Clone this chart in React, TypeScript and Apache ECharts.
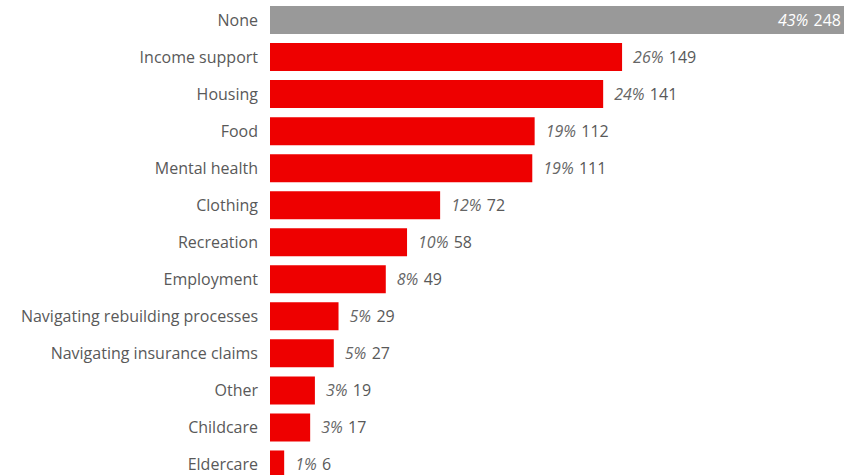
import React, { useEffect, useRef } from "react";
import * as echarts from "echarts";

const categories = [
  "None",
  "Income support",
  "Housing",
  "Food",
  "Mental health",
  "Clothing",
  "Recreation",
  "Employment",
  "Navigating rebuilding processes",
  "Navigating insurance claims",
  "Other",
  "Childcare",
  "Eldercare",
];
const counts = [248, 149, 141, 112, 111, 72, 58, 49, 29, 27, 19, 17, 6];
const percents = [43, 26, 24, 19, 19, 12, 10, 8, 5, 5, 3, 3, 1];

const RED = "#EE0000";
const GREY = "#999999";
const TEXT = "#595959";
const PCT = "#666666";
const FONT = "'Open Sans', 'Noto Sans', sans-serif";
const FS = 16;

export default function App() {
  const ref = useRef<HTMLDivElement>(null);
  useEffect(() => {
    if (!ref.current) return;
    const chart = echarts.init(ref.current, undefined, { renderer: "svg" });
    const data = counts.map((v, i) => {
      const isNone = i === 0;
      return {
        value: v,
        itemStyle: { color: isNone ? GREY : RED },
        label: isNone
          ? {
              position: "insideRight",
              distance: 15,
              rich: {
                p: { color: "#ffffff", fontStyle: "italic", fontSize: FS, fontFamily: FONT },
                v: { color: "#ffffff", fontSize: FS, fontFamily: FONT, padding: [0, 0, 0, 2] },
              },
            }
          : undefined,
      };
    });
    chart.setOption({
      animation: false,
      grid: { left: 270, right: 0, top: 1.5, bottom: 0, containLabel: false },
      xAxis: {
        type: "value",
        min: 0,
        max: 248,
        show: false,
        splitLine: { show: false },
      },
      yAxis: {
        type: "category",
        data: categories,
        inverse: true,
        axisLine: { show: false },
        axisTick: { show: false },
        axisLabel: { color: TEXT, fontSize: FS, fontFamily: FONT, margin: 12 },
      },
      series: [
        {
          type: "bar",
          data,
          barWidth: 28,
          label: {
            show: true,
            position: "right",
            distance: 11,
            formatter: (p: any) => `{p|${percents[p.dataIndex]}%} {v|${p.value}}`,
            rich: {
              p: { color: PCT, fontStyle: "italic", fontSize: FS, fontFamily: FONT },
              v: { color: TEXT, fontSize: FS, fontFamily: FONT, padding: [0, 0, 0, 2] },
            },
          },
        },
      ],
    });
    return () => chart.dispose();
  }, []);
  return (
    <div
      style={{
        position: "absolute",
        left: 0,
        top: 0,
        width: 844,
        height: 475,
        overflow: "hidden",
        background: "#fff",
      }}
    >
      <div ref={ref} style={{ width: 856, height: 483 }} />
    </div>
  );
}
